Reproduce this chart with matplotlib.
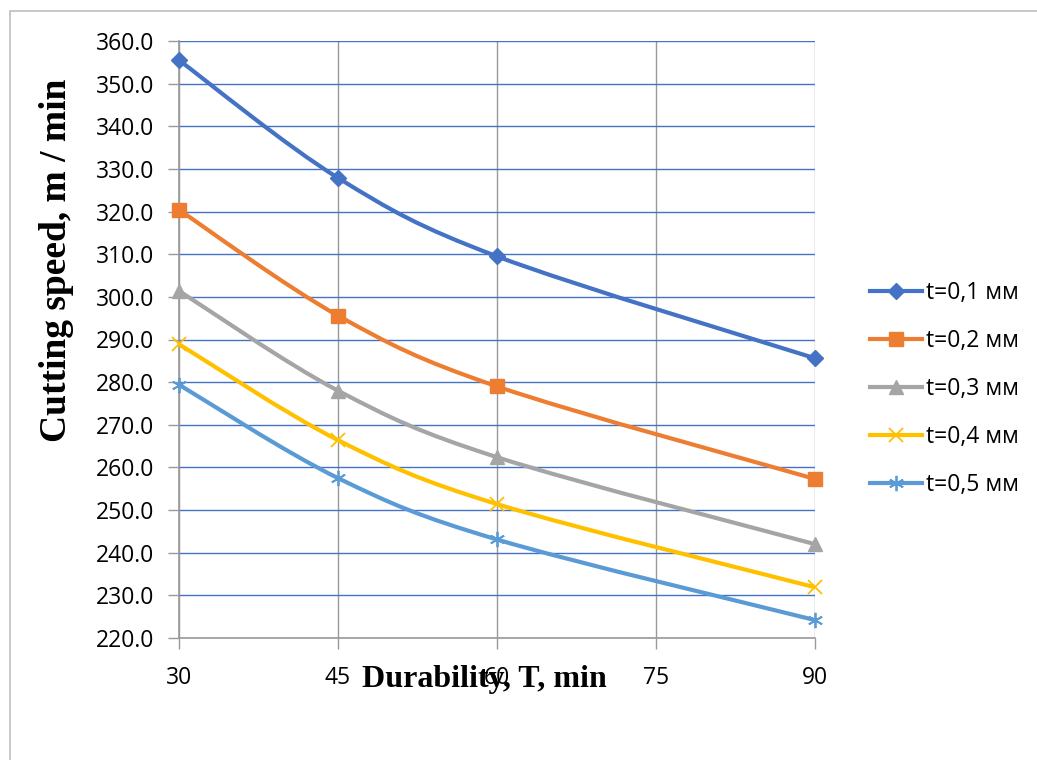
import numpy as np
import matplotlib.pyplot as plt
from matplotlib.path import Path
from matplotlib.patches import PathPatch, Rectangle
from matplotlib.lines import Line2D

# durability T, min
T = [30, 45, 60, 90]

# cutting speed, m/min for each depth of cut
v1 = [355.5, 327.9, 309.5, 285.6]
v2 = [320.4, 295.6, 279.0, 257.3]
v3 = [301.4, 278.0, 262.4, 242.0]
v4 = [288.9, 266.4, 251.4, 231.9]
v5 = [279.4, 257.5, 243.1, 224.2]

labels = ['t=0,1 мм', 't=0,2 мм', 't=0,3 мм', 't=0,4 мм', 't=0,5 мм']
colors = ['#4472C4', '#ED7D31', '#A5A5A5', '#FFC000', '#5B9BD5']
markers = ['D', 's', '^', 'x', (6, 2, 0)]
msizes = [8, 10, 10, 10, 11]

xticks = [30, 45, 60, 75, 90]
yticks = np.arange(220, 361, 10)


def smooth_path(xs, ys):
    # excel-like smoothed line: cubic bezier through the points
    pts = np.column_stack([xs, ys]).astype(float)
    n = len(pts)
    verts = [pts[0]]
    codes = [Path.MOVETO]
    for i in range(n - 1):
        p0 = pts[i - 1] if i > 0 else pts[i]
        p1 = pts[i]
        p2 = pts[i + 1]
        p3 = pts[i + 2] if i + 2 < n else pts[i + 1]
        c1 = p1 + (p2 - p0) / 6.0
        c2 = p2 - (p3 - p1) / 6.0
        verts += [c1, c2, p2]
        codes += [Path.CURVE4] * 3
    return Path(verts, codes)


plt.rcParams['font.family'] = ['Open Sans', 'DejaVu Sans']

fig = plt.figure(figsize=(10.37, 7.6), dpi=100)
ax = fig.add_axes([179/1037, 1 - 638/760, (815 - 179)/1037, (638 - 41)/760])

# outer frame of the chart (only left and top edges inside the picture)
fig.patches.append(Rectangle((10/1037, -0.2), 1.5, 1.2 - 11/760, transform=fig.transFigure,
                             fill=False, edgecolor='#BFBFBF', linewidth=1.2))

handles = []
for ys, lab, c, m, ms in zip([v1, v2, v3, v4, v5], labels, colors, markers, msizes):
    ax.add_patch(PathPatch(smooth_path(T, ys), facecolor='none', edgecolor=c,
                           linewidth=3, zorder=3, capstyle='round'))
    thin = (m == 'x') or isinstance(m, tuple)
    ax.plot(T, ys, linestyle='none', marker=m, markersize=ms, color=c,
            markeredgecolor=c, markeredgewidth=1.3 if thin else 1,
            zorder=4, clip_on=False)
    handles.append(Line2D([], [], color=c, linewidth=3, marker=m, markersize=ms,
                          markeredgewidth=1.3 if thin else 1))

ax.set_xlim(30, 90)
ax.set_ylim(220, 360)
ax.set_xticks(xticks)
ax.set_yticks(yticks)
ax.set_yticklabels(['%.1f' % y for y in yticks])

ax.grid(axis='y', color='#4472C4', linewidth=1.0)
ax.grid(axis='x', color='#999999', linewidth=1.0)
ax.set_axisbelow(True)

for s in ['top', 'right']:
    ax.spines[s].set_visible(False)
for s in ['left', 'bottom']:
    ax.spines[s].set_color('#999999')
    ax.spines[s].set_linewidth(1.2)

ax.tick_params(axis='both', colors='#999999', length=8, width=1, labelcolor='black',
               labelsize=16.5)
ax.tick_params(axis='x', pad=12)
ax.tick_params(axis='y', pad=10)

ax.set_ylabel('Cutting speed, m / min', family='Liberation Serif', fontweight='bold',
              fontsize=27)
ax.yaxis.set_label_coords((57 - 179)/(815 - 179), (638 - 260)/(638 - 41))
ax.set_xlabel('Durability, T, min', family='Liberation Serif', fontweight='bold',
              fontsize=23)
ax.xaxis.set_label_coords((484 - 179)/(815 - 179), -(679 - 638)/(638 - 41), )
ax.xaxis.label.set_va('center')
ax.yaxis.label.set_va('center')

ax.legend(handles, labels, loc='center left', bbox_to_anchor=(849/1037, 1 - 389/760),
          bbox_transform=fig.transFigure, frameon=False, fontsize=16.5,
          handlelength=2.3, handletextpad=0.15, labelspacing=1.05)

fig.savefig('out.png', dpi=100)
